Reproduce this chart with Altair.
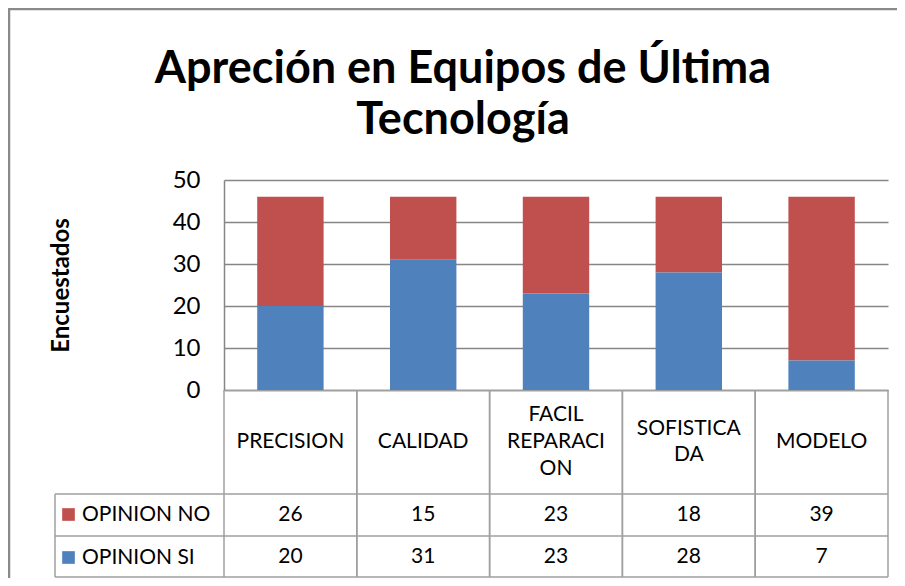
import altair as alt
import pandas as pd

# ---------------- data ----------------
categories = ["PRECISION", "CALIDAD", "FACIL REPARACION", "SOFISTICADA", "MODELO"]
category_lines = [["PRECISION"], ["CALIDAD"], ["FACIL", "REPARACI", "ON"], ["SOFISTICA", "DA"], ["MODELO"]]
series = ["OPINION NO", "OPINION SI"]
opinion_no = [26, 15, 23, 18, 39]
opinion_si = [20, 31, 23, 28, 7]
series_colors = ["#C0504D", "#4F81BD"]
y_ticks = [0, 10, 20, 30, 40, 50]
title_lines = ["Apreción en Equipos de Última", "Tecnología"]
y_title = "Encuestados"

rows = []
for i, c in enumerate(categories):
    rows.append({"categoria": c, "serie": series[0], "valor": opinion_no[i], "orden": 1})
    rows.append({"categoria": c, "serie": series[1], "valor": opinion_si[i], "orden": 0})
df = pd.DataFrame(rows)
cat_df = pd.DataFrame({
    "categoria": categories,
    "etiqueta": ["\n".join(l) for l in category_lines],
})
one = pd.DataFrame({"k": [0]})

# ---------------- layout / style ----------------
W, H = 664, 210
ROW_CAT_BOTTOM = 314
ROW_NO_BOTTOM = 356
ROW_SI_BOTTOM = 397
LEGEND_LEFT = -169
GRID = "#868686"
TBL = "#9f9f9f"
BORDER = "#8a8a8a"
FONT = "Lato"
LINE_H = 26.7

x_axis = alt.Axis(
    title=None, ticks=False, grid=False, domain=True, domainColor=TBL, domainWidth=1.5,
    labels=False,
)
x_scale = alt.Scale(domain=categories, paddingInner=0, paddingOuter=0)


def xenc(band_pos=None):
    if band_pos is None:
        return alt.X("categoria:N", sort=categories, scale=x_scale, axis=x_axis)
    return alt.X("categoria:N", sort=categories, scale=x_scale, axis=x_axis, bandPosition=band_pos)


bars = alt.Chart(df).mark_bar(width=alt.RelativeBandSize(0.5)).encode(
    x=xenc(),
    y=alt.Y(
        "valor:Q", stack="zero",
        scale=alt.Scale(domain=[0, 50], nice=False),
        axis=alt.Axis(
            values=y_ticks, title=y_title, grid=True, gridColor=GRID, gridWidth=1.5,
            domain=True, domainColor=GRID, domainWidth=1.5, ticks=False,
            labelFont=FONT, labelFontSize=24, labelColor="#000", labelPadding=24,
            titleFont=FONT, titleFontSize=24, titleFontWeight="bold", titleColor="#000",
            titleAngle=270, titleAlign="center", titleBaseline="middle", titleX=-163, titleY=105,
        ),
    ),
    color=alt.Color(
        "serie:N",
        scale=alt.Scale(domain=series, range=series_colors),
        legend=alt.Legend(
            orient="none", legendX=LEGEND_LEFT + 3, legendY=324, title=None,
            symbolType="square", symbolSize=160, symbolStrokeWidth=0, symbolOpacity=1,
            labelFont=FONT, labelFontSize=21, labelColor="#000", labelOffset=3,
            rowPadding=21, padding=0,
        ),
    ),
    order=alt.Order("orden:Q"),
)


def seg(x1, x2, y1, y2, color=TBL, w=1.5):
    return alt.Chart(one).mark_rule(color=color, strokeWidth=w).encode(
        x=alt.value(x1), x2=alt.value(x2), y=alt.value(y1), y2=alt.value(y2)
    )


vlines_left = alt.Chart(cat_df).mark_rule(color=TBL, strokeWidth=1.5).encode(
    x=xenc(0), y=alt.value(H), y2=alt.value(ROW_SI_BOTTOM)
)
vlines_right = alt.Chart(cat_df).mark_rule(color=TBL, strokeWidth=1.5).encode(
    x=xenc(1), y=alt.value(H), y2=alt.value(ROW_SI_BOTTOM)
)

# category labels (header row of the data table), multi-line and vertically centred
cat_text = alt.Chart(cat_df).mark_text(
    font=FONT, fontSize=21, color="#000", baseline="middle", align="center",
    lineBreak="\n", lineHeight=LINE_H,
    dy=alt.ExprRef("-(length(split(datum.etiqueta, '\\n')) - 1) * " + str(LINE_H / 2)),
).encode(x=xenc(), y=alt.value((H + ROW_CAT_BOTTOM) / 2), text="etiqueta:N")

no_text = alt.Chart(df).transform_filter(alt.datum.serie == series[0]).mark_text(
    font=FONT, fontSize=21, color="#000", baseline="middle", align="center"
).encode(x=xenc(), y=alt.value((ROW_CAT_BOTTOM + ROW_NO_BOTTOM) / 2), text="valor:Q")
si_text = alt.Chart(df).transform_filter(alt.datum.serie == series[1]).mark_text(
    font=FONT, fontSize=21, color="#000", baseline="middle", align="center"
).encode(x=xenc(), y=alt.value((ROW_NO_BOTTOM + ROW_SI_BOTTOM) / 2), text="valor:Q")

title = alt.Chart(one).mark_text(
    text=title_lines, font=FONT, fontSize=45, fontWeight="bold", lineHeight=51,
    align="center", baseline="alphabetic", color="#000",
).encode(x=alt.value(239), y=alt.value(-97))

chart = alt.layer(
    seg(-215, -215, -172, 400, BORDER, 2.5),
    seg(-216, 673, -171, -171, BORDER, 2.5),
    title,
    bars,
    vlines_left,
    vlines_right,
    seg(LEGEND_LEFT, W, ROW_CAT_BOTTOM, ROW_CAT_BOTTOM),
    seg(LEGEND_LEFT, W, ROW_NO_BOTTOM, ROW_NO_BOTTOM),
    seg(LEGEND_LEFT, W, ROW_SI_BOTTOM, ROW_SI_BOTTOM),
    seg(LEGEND_LEFT, LEGEND_LEFT, ROW_CAT_BOTTOM, ROW_SI_BOTTOM),
    cat_text,
    no_text,
    si_text,
).properties(
    width=W, height=H,
    autosize=alt.AutoSizeParams(type="none"),
    padding={"left": 216, "top": 172, "right": 9, "bottom": 188},
    background="white",
).configure_view(stroke=None)

chart.save("out.html", embed_options={"renderer": "svg", "actions": False})
